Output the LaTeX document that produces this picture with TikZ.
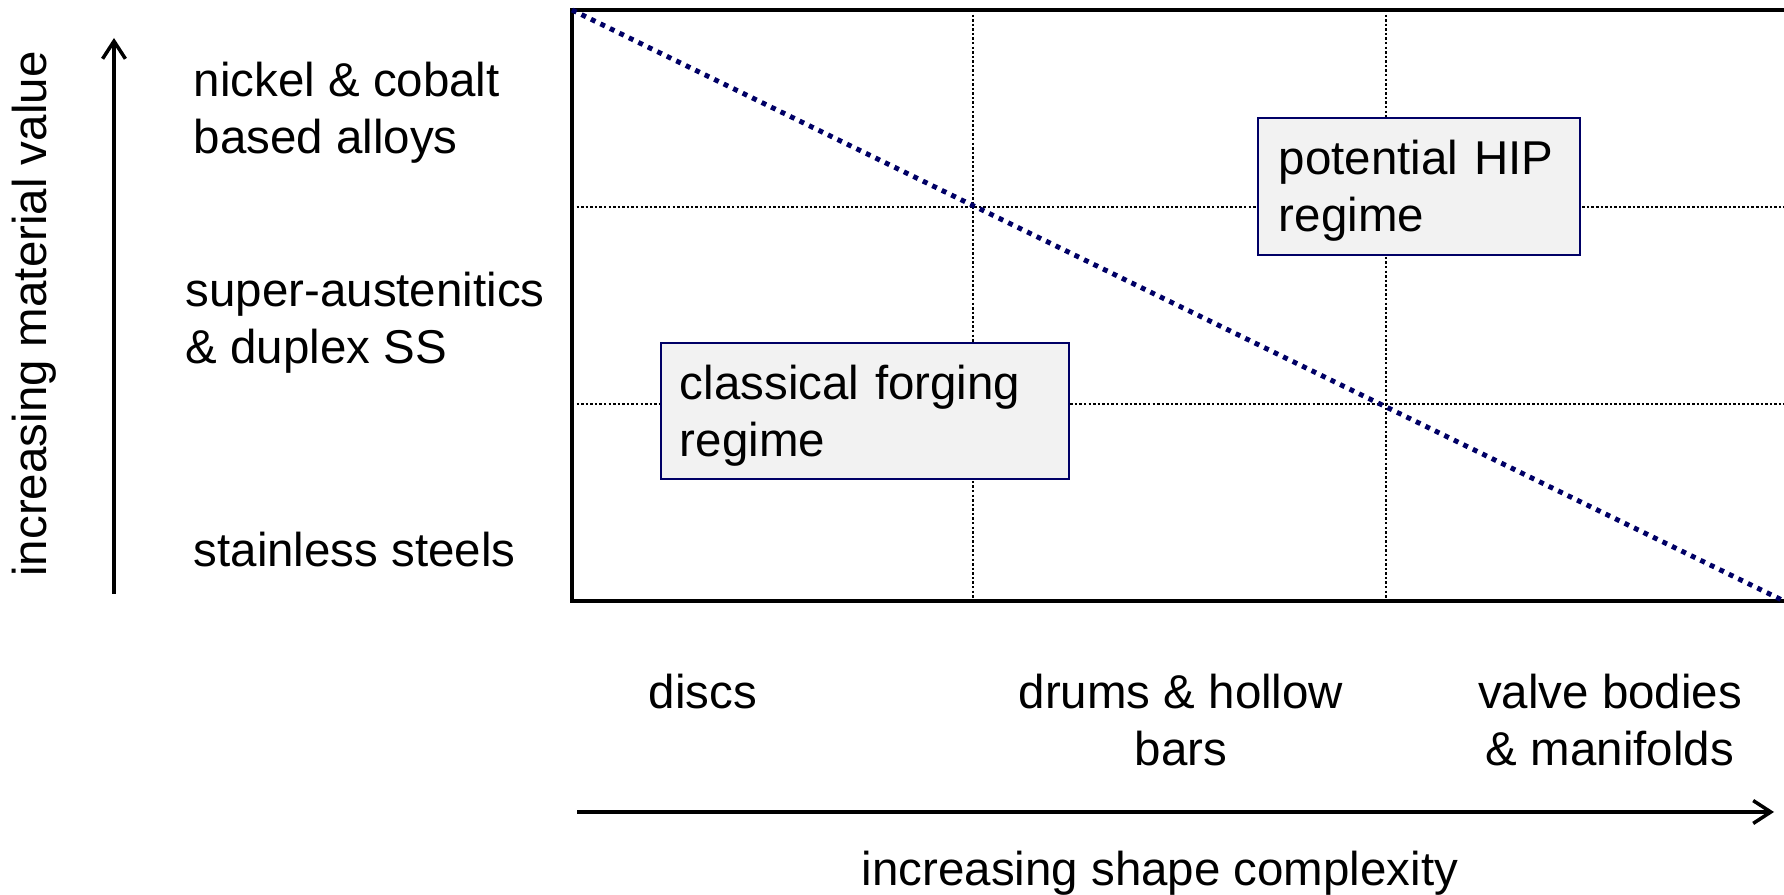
\documentclass[tikz,border=0pt]{standalone}
\usepackage{fontspec}
\setmainfont{Liberation Sans}
\usetikzlibrary{arrows.meta}
\definecolor{navyline}{RGB}{0,0,102}
\definecolor{boxgray}{RGB}{242,242,242}
\tikzset{
    txt/.style = {inner sep=0pt, font=\fontsize{13.5pt}{16.2pt}\selectfont},
    leftlabel/.style = {txt, anchor=west, align=left},
    bottomlabel/.style = {txt, align=center},
    regime/.style = {txt, draw=navyline, fill=boxgray, line width=0.6pt, rectangle, align=left, text height=0.57cm},
    plotframe/.style = {line width=1.2pt},
    gridline/.style = {line width=0.7pt, dash pattern=on 0.7pt off 0.6pt},
    divide/.style = {navyline, line width=1.4pt, dash pattern=on 1.4pt off 1.6pt},
    axisarrow/.style = {-{Straight Barb[length=5pt, width=6.5pt]}, line width=1pt}
}

\begin{document}
\begin{tikzpicture}[x=0.01cm, y=-0.01cm]
    \useasboundingbox (0,0) rectangle (1784,895);

    \coordinate (TL) at (572,10);
    \coordinate (TR) at (1784,10);
    \coordinate (BL) at (572,601);
    \coordinate (BR) at (1784,601);
    \coordinate (C1T) at (973,10);
    \coordinate (C1B) at (973,601);
    \coordinate (C2T) at (1386,10);
    \coordinate (C2B) at (1386,601);
    \coordinate (R1L) at (572,207);
    \coordinate (R1R) at (1784,207);
    \coordinate (R2L) at (572,404);
    \coordinate (R2R) at (1784,404);

    \draw[gridline] (C1T) -- (C1B);
    \draw[gridline] (C2T) -- (C2B);
    \draw[gridline] (R1L) -- (R1R);
    \draw[gridline] (R2L) -- (R2R);
    \draw[plotframe] (TR) -- (TL) -- (BL) -- (BR);
    \draw[divide] (TL) -- (BR);

    \node[regime, text width=3.7cm, inner xsep=0.19cm, text depth=0.79cm] (forging) at (865,411) {classical forging\\regime};
    \node[regime, text width=2.8cm, inner xsep=0.21cm, text depth=0.80cm] (hip) at (1419,186.5) {potential HIP\\regime};

    \node[leftlabel] (nickel) at (193,113) {nickel \& cobalt\\based alloys};
    \node[leftlabel] (austenitic) at (185,323) {super-austenitics\\\& duplex SS};
    \node[leftlabel] (stainless) at (193,550) {stainless steels};

    \coordinate (ybot) at (114,594);
    \coordinate (ytop) at (114,38);
    \draw[axisarrow] (ybot) -- (ytop);
    \node[txt, rotate=90] (ytitle) at (34,314) {increasing material value};

    \node[bottomlabel] (discs) at (703,692) {discs};
    \node[bottomlabel] (drums) at (1181,720) {drums \& hollow\\bars};
    \node[bottomlabel] (valves) at (1610,720) {valve bodies\\\& manifolds};

    \coordinate (xleft) at (577,812);
    \coordinate (xright) at (1774,812);
    \draw[axisarrow] (xleft) -- (xright);
    \node[txt] (xtitle) at (1160,873) {increasing shape complexity};
\end{tikzpicture}
\end{document}
